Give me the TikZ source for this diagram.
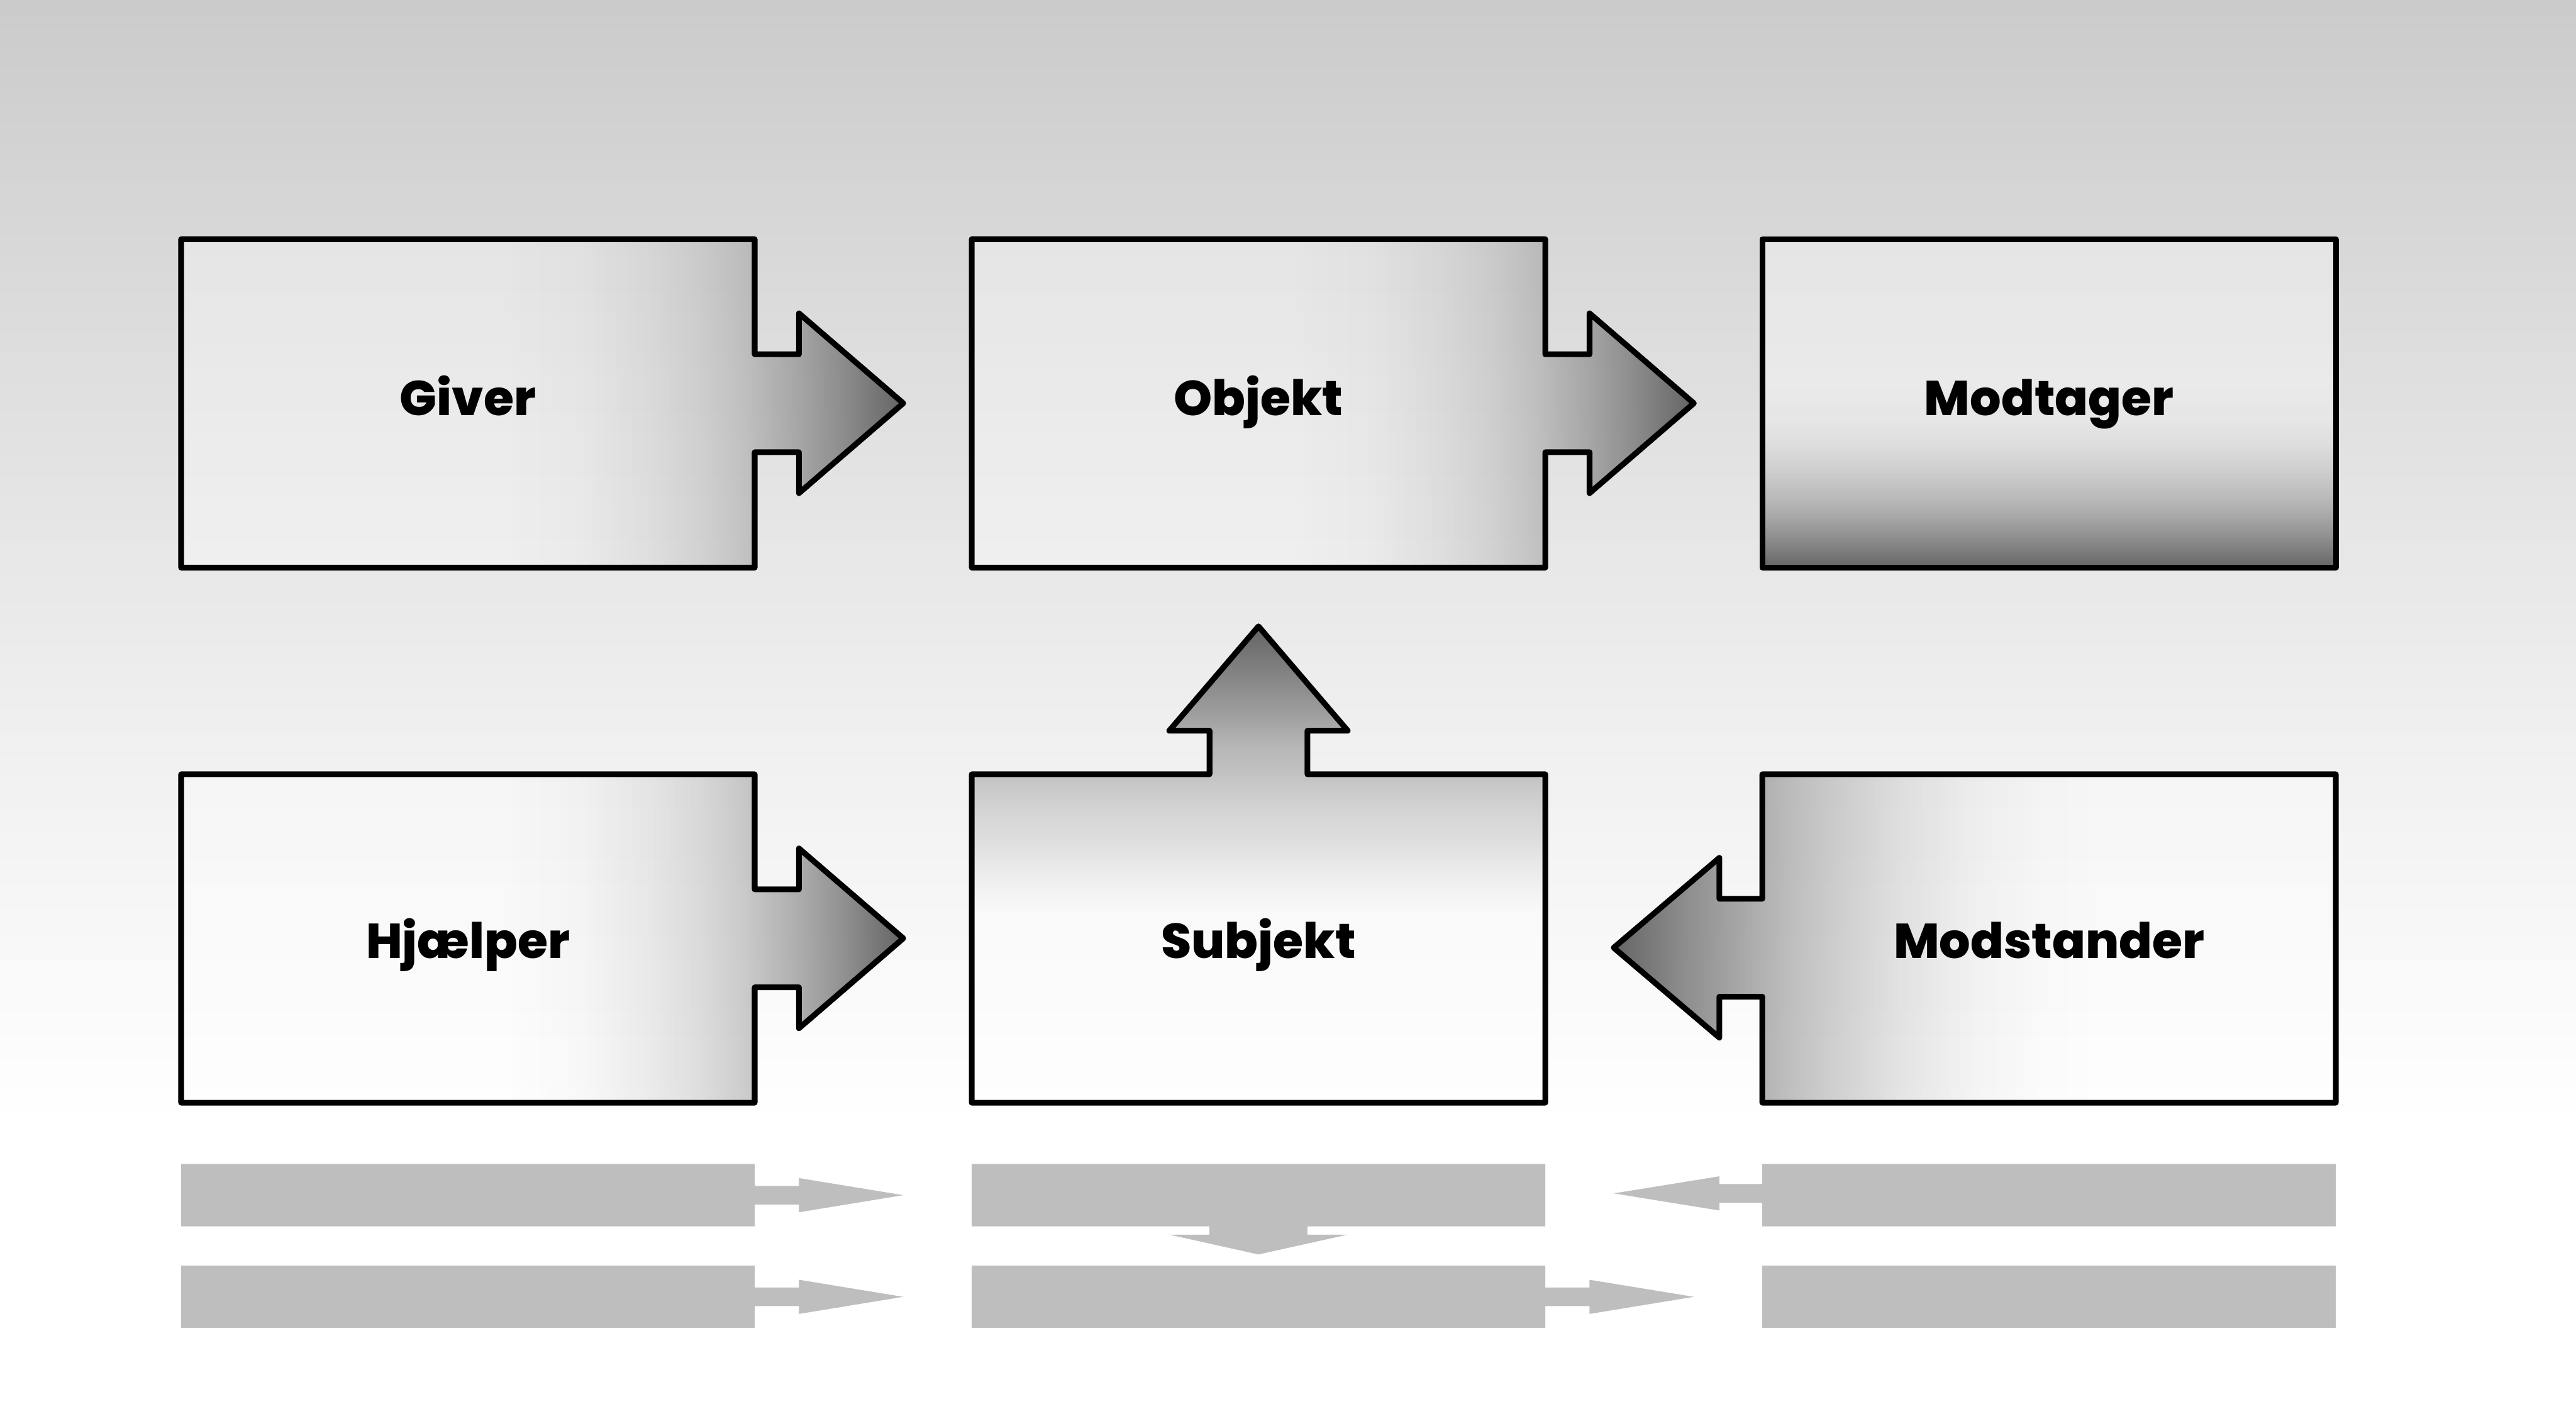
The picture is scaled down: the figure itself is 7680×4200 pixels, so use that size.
\documentclass[tikz,border=0pt]{standalone}
\usepackage{fontspec}
\newfontfamily\lblfont{Poppins}[UprightFont={* ExtraBold}, BoldFont={* ExtraBold}]
\usetikzlibrary{fadings}
\definecolor{dk}{HTML}{646464}
\definecolor{refl}{HTML}{BEBEBE}
\definecolor{bgA}{HTML}{CBCBCB}
\definecolor{bgB}{HTML}{DEDEDE}
\definecolor{bgC}{HTML}{EFEFEF}
% background
\pgfdeclareverticalshading{shBG}{100bp}{color(0bp)=(white); color(35.1bp)=(white); color(49.5bp)=(bgC); color(62.25bp)=(bgB); color(75bp)=(bgA); color(100bp)=(bgA)}
% fadings (white = opaque, black = transparent); profile mapped to 37.5..62.5bp
\pgfdeclarehorizontalshading{shR}{100bp}{color(0bp)=(black); color(48.75bp)=(black); color(51.25bp)=(white!3!black); color(53.75bp)=(white!12!black); color(55.5bp)=(white!21!black); color(57bp)=(white!32!black); color(58.75bp)=(white!50!black); color(60.25bp)=(white!68!black); color(61.5bp)=(white!86!black); color(62.5bp)=(white); color(100bp)=(white)}
\pgfdeclarehorizontalshading{shL}{100bp}{color(0bp)=(white); color(37.5bp)=(white); color(38.75bp)=(white!86!black); color(40bp)=(white!72!black); color(42bp)=(white!54!black); color(43.75bp)=(white!39!black); color(45.25bp)=(white!29!black); color(47.5bp)=(white!16!black); color(50bp)=(white!6!black); color(52.5bp)=(white!1!black); color(54.25bp)=(black); color(100bp)=(black)}
\pgfdeclareverticalshading{shU}{100bp}{color(0bp)=(black); color(47.5bp)=(black); color(48.9bp)=(white!5!black); color(50bp)=(white!10!black); color(51.325bp)=(white!17!black); color(52.95bp)=(white!24!black); color(54.5bp)=(white!33!black); color(56.175bp)=(white!43!black); color(58bp)=(white!60!black); color(60.225bp)=(white!80!black); color(62.5bp)=(white); color(100bp)=(white)}
\pgfdeclareverticalshading{shD}{100bp}{color(0bp)=(white); color(37.5bp)=(white); color(38.5bp)=(white!86!black); color(40bp)=(white!67!black); color(41.5bp)=(white!50!black); color(43bp)=(white!36!black); color(45bp)=(white!21!black); color(47bp)=(white!10!black); color(48.75bp)=(white!3!black); color(51.25bp)=(black); color(100bp)=(black)}
\begin{tikzfadingfrompicture}[name=fR]
  \shade[shading=shR] (-50bp,-50bp) rectangle (50bp,50bp);
\end{tikzfadingfrompicture}
\begin{tikzfadingfrompicture}[name=fL]
  \shade[shading=shL] (-50bp,-50bp) rectangle (50bp,50bp);
\end{tikzfadingfrompicture}
\begin{tikzfadingfrompicture}[name=fU]
  \shade[shading=shU] (-50bp,-50bp) rectangle (50bp,50bp);
\end{tikzfadingfrompicture}
\begin{tikzfadingfrompicture}[name=fD]
  \shade[shading=shD] (-50bp,-50bp) rectangle (50bp,50bp);
\end{tikzfadingfrompicture}
\def\pGiver{(540,-713) -- (2250,-713) -- (2250,-1056) -- (2382,-1056) -- (2382,-934) -- (2693,-1202) -- (2382,-1470) -- (2382,-1348) -- (2250,-1348) -- (2250,-1692) -- (540,-1692) -- cycle}
\def\pObjekt{(2897,-713) -- (4607,-713) -- (4607,-1056) -- (4739,-1056) -- (4739,-934) -- (5050,-1202) -- (4739,-1470) -- (4739,-1348) -- (4607,-1348) -- (4607,-1692) -- (2897,-1692) -- cycle}
\def\pModtager{(5254,-713) -- (6964,-713) -- (6964,-1692) -- (5254,-1692) -- cycle}
\def\pHjaelper{(540,-2308) -- (2250,-2308) -- (2250,-2651) -- (2382,-2651) -- (2382,-2529) -- (2693,-2797) -- (2382,-3065) -- (2382,-2943) -- (2250,-2943) -- (2250,-3287) -- (540,-3287) -- cycle}
\def\pSubjekt{(2897,-2308) -- (3606,-2308) -- (3606,-2178) -- (3486,-2178) -- (3752,-1867) -- (4018,-2178) -- (3898,-2178) -- (3898,-2308) -- (4607,-2308) -- (4607,-3287) -- (2897,-3287) -- cycle}
\def\pModstander{(6964,-2308) -- (5254,-2308) -- (5254,-2679) -- (5126,-2679) -- (5126,-2557) -- (4811,-2825) -- (5126,-3093) -- (5126,-2971) -- (5254,-2971) -- (5254,-3287) -- (6964,-3287) -- cycle}
\tikzset{
  outline/.style={draw=black, line width=0.0885cm, line join=round},
  basefill/.style={fill=white, fill opacity=0.35},
  lbl/.style={font=\lblfont\fontsize{21.6}{26}\selectfont, text=black, inner sep=0pt, anchor=base},
  reflfill/.style={fill=refl}
}
\begin{document}
\begin{tikzpicture}[x=0.0052083cm, y=0.0052083cm]
\useasboundingbox (0,-4200) rectangle (7680,0);
\shade[shading=shBG] (0,-4200) rectangle (7680,0);
% reflection
\begin{scope}[shift={(0,-4094)}, yscale=-0.19]
  \fill[reflfill] \pGiver;
  \fill[reflfill] \pObjekt;
  \fill[reflfill] \pModtager;
  \fill[reflfill] \pHjaelper;
  \fill[reflfill] \pSubjekt;
  \fill[reflfill] \pModstander;
\end{scope}
% shapes
\fill[basefill] \pGiver;   \fill[dk, path fading=fR] \pGiver;   \draw[outline] \pGiver;
\fill[basefill] \pObjekt;  \fill[dk, path fading=fR] \pObjekt;  \draw[outline] \pObjekt;
\fill[basefill] \pModtager; \fill[dk, path fading=fD] \pModtager; \draw[outline] \pModtager;
\fill[basefill] \pHjaelper; \fill[dk, path fading=fR] \pHjaelper; \draw[outline] \pHjaelper;
\fill[basefill] \pSubjekt; \fill[dk, path fading=fU] \pSubjekt; \draw[outline] \pSubjekt;
\fill[basefill] \pModstander; \fill[dk, path fading=fL] \pModstander; \draw[outline] \pModstander;
% labels
\node[lbl] (giver) at (1395,-1239) {Giver};
\node[lbl] (objekt) at (3752,-1239) {Objekt};
\node[lbl] (modtager) at (6109,-1239) {Modtager};
\node[lbl] (hjaelper) at (1395,-2856) {Hjælper};
\node[lbl] (subjekt) at (3752,-2856) {Subjekt};
\node[lbl] (modstander) at (6109,-2856) {Modstander};
\end{tikzpicture}
\end{document}
